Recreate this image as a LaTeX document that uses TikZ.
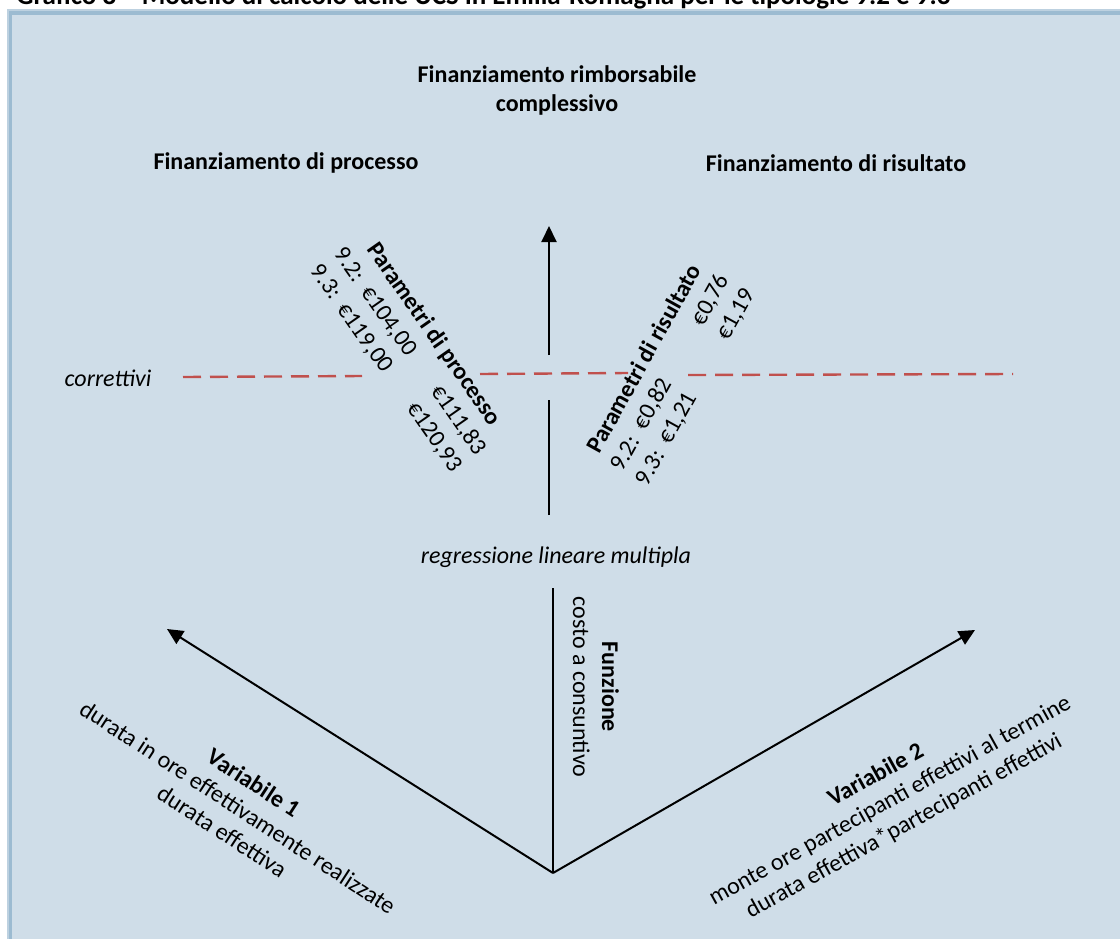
\documentclass[tikz,border=0pt]{standalone}
\usepackage{fontspec}
\setmainfont{Carlito}
\usetikzlibrary{arrows.meta}
\definecolor{panel}{HTML}{CFDDE8}
\definecolor{rim}{HTML}{9CBBD1}
\definecolor{rimlight}{HTML}{BDD1E0}
\definecolor{cutline}{HTML}{C0504D}
\begin{document}
\begin{tikzpicture}[x=0.5pt,y=-0.5pt,
  txt/.style={font=\fontsize{12}{14.5}\selectfont, align=center, inner sep=0pt},
  head/.style={txt, font=\fontsize{12}{14.5}\selectfont\bfseries},
  slanted/.style={txt, font=\fontsize{12}{14.5}\selectfont\itshape},
  axis/.style={line width=1pt, -{Triangle[width=7.5pt,length=8pt]}},
  bar/.style={line width=1pt},
  cut/.style={line width=1.2pt, cutline, dash pattern=on 9pt off 4.5pt}]
\useasboundingbox (0,0) rectangle (1120,938);
\clip (0,0) rectangle (1120,938);

% caption (cut off by the page edge)
\node[head, font=\fontsize{13.5}{16}\selectfont\bfseries, anchor=base west] (title) at (16,4)
  {Grafico 8 – Modello di calcolo delle UCS in Emilia-Romagna per le tipologie 9.2 e 9.3};

% panel with double rim
\fill[panel] (10,13) rectangle (1150,960);
\draw[rimlight, line width=1.2pt] (8,1000) -- (8,10) -- (1150,10);
\draw[rim, line width=1.6pt] (10.5,1000) -- (10.5,13) -- (1150,13);

% headings
\node[head] (tot)  at (557,90)  {Finanziamento rimborsabile\\complessivo};
\node[head] (proc) at (286,163) {Finanziamento di processo};
\node[head] (ris)  at (836,163) {Finanziamento di risultato};

% central axis
\coordinate (a1) at (549,355);
\coordinate (a2) at (549,226);
\coordinate (s1) at (549,515);
\coordinate (s2) at (549,400);
\draw[axis] (a1) -- (a2);
\draw[bar] (s1) -- (s2);

% correction line
\node[slanted] (corr) at (108,378) {correttivi};
\coordinate (c1) at (183,377);
\coordinate (c2) at (362,376);
\coordinate (c3) at (480,374);
\coordinate (c4) at (628,373);
\coordinate (c5) at (688,375);
\coordinate (c6) at (1013,374);
\draw[cut] (c1) -- (c2);
\draw[cut] (c3) -- (c4);
\draw[cut] (c5) -- (c6);

% parameters
\node[txt, rotate=-55] (procpar) at (410,351)
  {\textbf{Parametri di processo}\\
   9.2:~~€104,00\hspace{21pt}€111,83\\
   9.3:~~€119,00\hspace{21pt}€120,93};
\node[txt, rotate=61] (respar) at (670,373)
  {\textbf{Parametri di risultato}\\
   9.2:~~€0,82\hspace{32pt}€0,76\\
   9.3:~~€1,21\hspace{32pt}€1,19};

\node[slanted] (regr) at (556,557) {regressione lineare multipla};

% lower fan of variables
\coordinate (base) at (553,873);
\coordinate (ftop) at (553,588);
\coordinate (v1end) at (167,629);
\coordinate (v2end) at (975,630);
\draw[bar] (ftop) -- (base);
\draw[axis] (base) -- (v1end);
\draw[axis] (base) -- (v2end);

\node[txt, rotate=-90] (fun) at (596,687)
  {\textbf{Funzione}\\costo a consuntivo};
\node[txt, rotate=-33] (var1) at (238,807)
  {\textbf{Variabile 1}\\durata in ore effettivamente realizzate\\durata effettiva};
\node[txt, rotate=29] (var2) at (890,801)
  {\textbf{Variabile 2}\\monte ore partecipanti effettivi al termine\\durata effettiva*partecipanti effettivi};
\end{tikzpicture}
\end{document}
